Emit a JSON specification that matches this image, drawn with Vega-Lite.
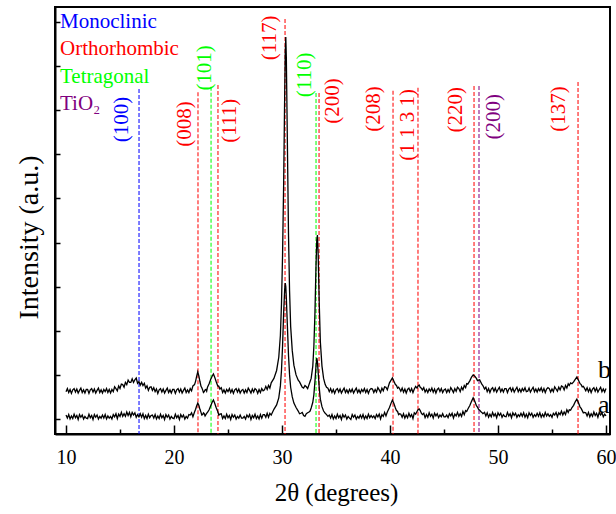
{
  "$schema": "https://vega.github.io/schema/vega-lite/v6.json",
  "width": 555,
  "height": 427,
  "autosize": {"type": "none"},
  "padding": {"left": 55, "top": 7, "right": 6, "bottom": 80},
  "background": "white",
  "config": {
    "view": {"stroke": "black", "strokeWidth": 2},
    "font": "Liberation Serif, Times New Roman, serif",
    "axis": {"grid": false, "labelFont": "Liberation Serif, Times New Roman, serif", "titleFont": "Liberation Serif, Times New Roman, serif", "labelColor": "black", "titleColor": "black", "tickColor": "black", "domainColor": "black"}
  },
  "datasets": {
    "traces": [
      {"x":10.000,"a":0.09,"b":0.62},{"x":10.125,"a":0.02,"b":0.69},{"x":10.250,"a":0.10,"b":0.60},{"x":10.375,"a":0.00,"b":0.67},
      {"x":10.500,"a":0.07,"b":0.58},{"x":10.625,"a":0.01,"b":0.66},{"x":10.750,"a":0.11,"b":0.69},{"x":10.875,"a":0.03,"b":0.61},
      {"x":11.000,"a":0.08,"b":0.68},{"x":11.125,"a":-0.01,"b":0.59},{"x":11.250,"a":0.10,"b":0.65},{"x":11.375,"a":0.04,"b":0.70},
      {"x":11.500,"a":0.09,"b":0.60},{"x":11.625,"a":0.00,"b":0.66},{"x":11.750,"a":0.06,"b":0.59},{"x":11.875,"a":0.02,"b":0.67},
      {"x":12.000,"a":0.01,"b":0.67},{"x":12.125,"a":0.11,"b":0.58},{"x":12.250,"a":0.03,"b":0.66},{"x":12.375,"a":0.08,"b":0.69},
      {"x":12.500,"a":-0.01,"b":0.61},{"x":12.625,"a":0.10,"b":0.68},{"x":12.750,"a":0.04,"b":0.59},{"x":12.875,"a":0.09,"b":0.65},
      {"x":13.000,"a":0.00,"b":0.70},{"x":13.125,"a":0.06,"b":0.60},{"x":13.250,"a":0.02,"b":0.66},{"x":13.375,"a":0.09,"b":0.59},
      {"x":13.500,"a":0.02,"b":0.67},{"x":13.625,"a":0.10,"b":0.62},{"x":13.750,"a":0.00,"b":0.69},{"x":13.875,"a":0.07,"b":0.60},
      {"x":14.000,"a":0.02,"b":0.67},{"x":14.125,"a":0.06,"b":0.59},{"x":14.250,"a":0.00,"b":0.67},{"x":14.375,"a":0.10,"b":0.62},
      {"x":14.500,"a":0.05,"b":0.73},{"x":14.625,"a":0.12,"b":0.69},{"x":14.750,"a":0.01,"b":0.64},{"x":14.875,"a":0.11,"b":0.75},
      {"x":15.000,"a":0.06,"b":0.69},{"x":15.125,"a":0.15,"b":0.79},{"x":15.250,"a":0.06,"b":0.78},{"x":15.375,"a":0.12,"b":0.72},
      {"x":15.500,"a":0.06,"b":0.83},{"x":15.625,"a":0.16,"b":0.78},{"x":15.750,"a":0.08,"b":0.88},{"x":15.875,"a":0.15,"b":0.83},
      {"x":16.000,"a":0.05,"b":0.83},{"x":16.125,"a":0.15,"b":0.91},{"x":16.250,"a":0.09,"b":0.83},{"x":16.375,"a":0.14,"b":0.89},
      {"x":16.500,"a":0.04,"b":0.93},{"x":16.625,"a":0.10,"b":0.81},{"x":16.750,"a":0.05,"b":0.85},{"x":16.875,"a":0.12,"b":0.77},
      {"x":17.000,"a":0.04,"b":0.83},{"x":17.125,"a":0.12,"b":0.76},{"x":17.250,"a":0.01,"b":0.81},{"x":17.375,"a":0.08,"b":0.70},
      {"x":17.500,"a":0.01,"b":0.75},{"x":17.625,"a":0.11,"b":0.65},{"x":17.750,"a":0.03,"b":0.72},{"x":17.875,"a":0.08,"b":0.73},
      {"x":18.000,"a":0.09,"b":0.65},{"x":18.125,"a":0.02,"b":0.71},{"x":18.250,"a":0.10,"b":0.62},{"x":18.375,"a":0.00,"b":0.68},
      {"x":18.500,"a":0.07,"b":0.58},{"x":18.625,"a":0.01,"b":0.66},{"x":18.750,"a":0.11,"b":0.69},{"x":18.875,"a":0.03,"b":0.61},
      {"x":19.000,"a":0.08,"b":0.68},{"x":19.125,"a":-0.01,"b":0.59},{"x":19.250,"a":0.10,"b":0.65},{"x":19.375,"a":0.04,"b":0.70},
      {"x":19.500,"a":0.09,"b":0.60},{"x":19.625,"a":0.00,"b":0.66},{"x":19.750,"a":0.06,"b":0.59},{"x":19.875,"a":0.02,"b":0.67},
      {"x":20.000,"a":0.01,"b":0.67},{"x":20.125,"a":0.11,"b":0.58},{"x":20.250,"a":0.03,"b":0.66},{"x":20.375,"a":0.08,"b":0.69},
      {"x":20.500,"a":-0.01,"b":0.61},{"x":20.625,"a":0.10,"b":0.68},{"x":20.750,"a":0.04,"b":0.59},{"x":20.875,"a":0.09,"b":0.65},
      {"x":21.000,"a":0.00,"b":0.70},{"x":21.125,"a":0.06,"b":0.60},{"x":21.250,"a":0.02,"b":0.66},{"x":21.375,"a":0.10,"b":0.60},
      {"x":21.500,"a":0.09,"b":0.69},{"x":21.625,"a":0.14,"b":0.64},{"x":21.750,"a":0.05,"b":0.75},
      {"x":21.90,"a":0.16,"b":0.78},{"x":22.00,"a":0.22,"b":0.86},{"x":22.10,"a":0.30,"b":0.97},{"x":22.20,"a":0.36,"b":1.07},
      {"x":22.30,"a":0.31,"b":0.98},{"x":22.40,"a":0.22,"b":0.85},{"x":22.50,"a":0.15,"b":0.74},{"x":22.575,"a":0.09,"b":0.71},
      {"x":22.65,"a":0.10,"b":0.66},{"x":22.725,"a":0.14,"b":0.60},{"x":22.80,"a":0.12,"b":0.62},{"x":22.875,"a":0.07,"b":0.66},
      {"x":22.95,"a":0.10,"b":0.67},{"x":23.025,"a":0.13,"b":0.63},{"x":23.10,"a":0.15,"b":0.72},{"x":23.25,"a":0.21,"b":0.80},
      {"x":23.40,"a":0.30,"b":0.90},{"x":23.55,"a":0.39,"b":0.98},{"x":23.65,"a":0.43,"b":1.02},{"x":23.75,"a":0.37,"b":0.96},
      {"x":23.90,"a":0.26,"b":0.85},{"x":24.05,"a":0.17,"b":0.75},{"x":24.15,"a":0.09,"b":0.74},{"x":24.25,"a":0.11,"b":0.68},
      {"x":24.375,"a":0.12,"b":0.71},{"x":24.500,"a":0.01,"b":0.60},{"x":24.625,"a":0.07,"b":0.66},{"x":24.750,"a":0.01,"b":0.59},
      {"x":24.875,"a":0.11,"b":0.67},{"x":25.000,"a":0.03,"b":0.62},{"x":25.125,"a":0.08,"b":0.69},{"x":25.250,"a":-0.01,"b":0.60},
      {"x":25.375,"a":0.10,"b":0.67},{"x":25.500,"a":0.04,"b":0.58},{"x":25.625,"a":0.09,"b":0.66},{"x":25.750,"a":0.00,"b":0.69},
      {"x":25.875,"a":0.06,"b":0.61},{"x":26.000,"a":0.02,"b":0.68},{"x":26.125,"a":0.09,"b":0.59},{"x":26.250,"a":0.02,"b":0.65},
      {"x":26.375,"a":0.02,"b":0.67},{"x":26.500,"a":0.06,"b":0.59},{"x":26.625,"a":0.00,"b":0.66},{"x":26.750,"a":0.09,"b":0.60},
      {"x":26.875,"a":0.04,"b":0.70},{"x":27.000,"a":0.10,"b":0.65},{"x":27.125,"a":-0.01,"b":0.59},{"x":27.250,"a":0.08,"b":0.68},
      {"x":27.375,"a":0.03,"b":0.61},{"x":27.500,"a":0.11,"b":0.69},{"x":27.625,"a":0.01,"b":0.66},{"x":27.750,"a":0.07,"b":0.58},
      {"x":27.875,"a":0.00,"b":0.67},{"x":28.000,"a":0.10,"b":0.60},{"x":28.125,"a":0.02,"b":0.69},{"x":28.250,"a":0.10,"b":0.64},
      {"x":28.375,"a":0.10,"b":0.66},{"x":28.500,"a":0.04,"b":0.74},{"x":28.625,"a":0.13,"b":0.67},{"x":28.750,"a":0.04,"b":0.76},
      {"x":28.875,"a":0.13,"b":0.70},{"x":29.000,"a":0.09,"b":0.82},
      {"x":29.25,"a":0.22,"b":0.92},{"x":29.50,"a":0.32,"b":1.10},{"x":29.70,"a":0.48,"b":1.40},{"x":29.85,"a":0.75,"b":1.90},
      {"x":29.95,"a":1.10,"b":2.60},{"x":30.05,"a":1.65,"b":3.70},{"x":30.15,"a":2.40,"b":5.30},{"x":30.25,"a":2.95,"b":7.40},
      {"x":30.30,"a":3.08,"b":8.30},{"x":30.35,"a":3.00,"b":8.66},{"x":30.40,"a":2.75,"b":8.20},{"x":30.50,"a":2.10,"b":6.20},
      {"x":30.60,"a":1.45,"b":4.20},{"x":30.70,"a":1.00,"b":2.90},{"x":30.80,"a":0.72,"b":2.10},{"x":30.95,"a":0.50,"b":1.55},
      {"x":31.10,"a":0.36,"b":1.22},{"x":31.30,"a":0.26,"b":1.00},{"x":31.50,"a":0.18,"b":0.88},{"x":31.625,"a":0.12,"b":0.84},
      {"x":31.75,"a":0.13,"b":0.78},{"x":31.875,"a":0.15,"b":0.72},{"x":32.00,"a":0.08,"b":0.70},{"x":32.125,"a":0.06,"b":0.76},
      {"x":32.25,"a":0.12,"b":0.73},{"x":32.375,"a":0.14,"b":0.69},{"x":32.50,"a":0.16,"b":0.78},{"x":32.60,"a":0.18,"b":0.85},
      {"x":32.70,"a":0.25,"b":0.92},{"x":32.85,"a":0.38,"b":1.20},{"x":32.95,"a":0.55,"b":1.65},{"x":33.05,"a":0.85,"b":2.40},
      {"x":33.15,"a":1.22,"b":3.50},{"x":33.22,"a":1.38,"b":4.05},{"x":33.28,"a":1.30,"b":4.17},{"x":33.35,"a":1.05,"b":3.70},
      {"x":33.45,"a":0.70,"b":2.60},{"x":33.55,"a":0.45,"b":1.75},{"x":33.70,"a":0.28,"b":1.20},{"x":33.85,"a":0.18,"b":0.92},
      {"x":34.00,"a":0.13,"b":0.78},{"x":34.125,"a":0.10,"b":0.72},{"x":34.250,"a":0.06,"b":0.70},
      {"x":34.375,"a":0.09,"b":0.62},{"x":34.500,"a":0.02,"b":0.69},{"x":34.625,"a":0.10,"b":0.60},{"x":34.750,"a":0.00,"b":0.67},
      {"x":34.875,"a":0.07,"b":0.58},{"x":35.000,"a":0.01,"b":0.66},{"x":35.125,"a":0.11,"b":0.69},{"x":35.250,"a":0.03,"b":0.61},
      {"x":35.375,"a":0.08,"b":0.68},{"x":35.500,"a":-0.01,"b":0.59},{"x":35.625,"a":0.10,"b":0.65},{"x":35.750,"a":0.04,"b":0.70},
      {"x":35.875,"a":0.09,"b":0.60},{"x":36.000,"a":0.00,"b":0.66},{"x":36.125,"a":0.06,"b":0.59},{"x":36.250,"a":0.02,"b":0.67},
      {"x":36.375,"a":-0.01,"b":0.61},{"x":36.500,"a":0.10,"b":0.68},{"x":36.625,"a":0.04,"b":0.59},{"x":36.750,"a":0.09,"b":0.65},
      {"x":36.875,"a":0.00,"b":0.70},{"x":37.000,"a":0.06,"b":0.60},{"x":37.125,"a":0.02,"b":0.66},{"x":37.250,"a":0.09,"b":0.59},
      {"x":37.375,"a":0.02,"b":0.67},{"x":37.500,"a":0.10,"b":0.62},{"x":37.625,"a":0.00,"b":0.69},{"x":37.750,"a":0.07,"b":0.60},
      {"x":37.875,"a":0.01,"b":0.67},{"x":38.000,"a":0.11,"b":0.58},{"x":38.125,"a":0.03,"b":0.66},{"x":38.250,"a":0.08,"b":0.69},
      {"x":38.375,"a":0.03,"b":0.68},{"x":38.500,"a":0.07,"b":0.60},{"x":38.625,"a":0.01,"b":0.67},{"x":38.750,"a":0.10,"b":0.61},
      {"x":38.875,"a":0.05,"b":0.71},{"x":39.000,"a":0.11,"b":0.66},{"x":39.125,"a":0.00,"b":0.60},{"x":39.250,"a":0.10,"b":0.70},
      {"x":39.375,"a":0.06,"b":0.64},{"x":39.500,"a":0.15,"b":0.73},{"x":39.625,"a":0.07,"b":0.72},{"x":39.750,"a":0.16,"b":0.66},
      {"x":39.95,"a":0.26,"b":0.82},{"x":40.10,"a":0.36,"b":0.88},{"x":40.22,"a":0.43,"b":0.93},{"x":40.35,"a":0.36,"b":0.86},
      {"x":40.50,"a":0.25,"b":0.78},{"x":40.60,"a":0.19,"b":0.76},{"x":40.70,"a":0.17,"b":0.70},{"x":40.80,"a":0.10,"b":0.72},
      {"x":40.90,"a":0.12,"b":0.68},
      {"x":41.000,"a":0.11,"b":0.63},{"x":41.125,"a":0.04,"b":0.70},{"x":41.250,"a":0.12,"b":0.61},{"x":41.375,"a":0.02,"b":0.68},
      {"x":41.500,"a":0.09,"b":0.59},{"x":41.625,"a":0.03,"b":0.67},{"x":41.750,"a":0.13,"b":0.70},{"x":41.875,"a":0.05,"b":0.62},
      {"x":42.000,"a":0.10,"b":0.69},{"x":42.125,"a":0.01,"b":0.60},{"x":42.250,"a":0.14,"b":0.68},{"x":42.375,"a":0.11,"b":0.74},
      {"x":42.50,"a":0.17,"b":0.70},{"x":42.60,"a":0.21,"b":0.75},{"x":42.70,"a":0.23,"b":0.77},{"x":42.80,"a":0.19,"b":0.72},
      {"x":42.90,"a":0.13,"b":0.70},{"x":43.00,"a":0.10,"b":0.66},
      {"x":43.125,"a":0.13,"b":0.71},{"x":43.250,"a":0.03,"b":0.61},{"x":43.375,"a":0.10,"b":0.67},{"x":43.500,"a":0.04,"b":0.60},
      {"x":43.625,"a":0.14,"b":0.68},{"x":43.750,"a":0.06,"b":0.63},{"x":43.875,"a":0.11,"b":0.70},{"x":44.000,"a":0.02,"b":0.61},
      {"x":44.125,"a":0.13,"b":0.68},{"x":44.250,"a":0.07,"b":0.59},{"x":44.375,"a":0.12,"b":0.67},{"x":44.500,"a":0.03,"b":0.70},
      {"x":44.625,"a":0.09,"b":0.62},{"x":44.750,"a":0.05,"b":0.69},{"x":44.875,"a":0.12,"b":0.60},{"x":45.000,"a":0.05,"b":0.66},
      {"x":45.125,"a":0.05,"b":0.68},{"x":45.250,"a":0.09,"b":0.60},{"x":45.375,"a":0.03,"b":0.67},{"x":45.500,"a":0.12,"b":0.61},
      {"x":45.625,"a":0.07,"b":0.71},{"x":45.750,"a":0.13,"b":0.66},{"x":45.875,"a":0.02,"b":0.60},{"x":46.000,"a":0.11,"b":0.69},
      {"x":46.125,"a":0.07,"b":0.63},{"x":46.250,"a":0.15,"b":0.72},{"x":46.375,"a":0.06,"b":0.69},{"x":46.500,"a":0.12,"b":0.62},
      {"x":46.625,"a":0.06,"b":0.72},{"x":46.750,"a":0.17,"b":0.66},{"x":46.875,"a":0.10,"b":0.76},{"x":47.000,"a":0.19,"b":0.71},
      {"x":47.10,"a":0.17,"b":0.80},{"x":47.20,"a":0.22,"b":0.79},{"x":47.40,"a":0.31,"b":0.87},{"x":47.55,"a":0.40,"b":0.95},
      {"x":47.70,"a":0.48,"b":1.00},{"x":47.85,"a":0.40,"b":0.97},{"x":48.00,"a":0.30,"b":0.92},{"x":48.10,"a":0.27,"b":0.87},
      {"x":48.20,"a":0.22,"b":0.88},{"x":48.30,"a":0.20,"b":0.89},{"x":48.40,"a":0.17,"b":0.84},{"x":48.50,"a":0.15,"b":0.79},
      {"x":48.60,"a":0.12,"b":0.76},
      {"x":48.750,"a":0.15,"b":0.68},{"x":48.875,"a":0.07,"b":0.72},{"x":49.000,"a":0.14,"b":0.62},{"x":49.125,"a":0.04,"b":0.69},
      {"x":49.250,"a":0.11,"b":0.60},{"x":49.375,"a":0.05,"b":0.68},{"x":49.500,"a":0.15,"b":0.71},{"x":49.625,"a":0.07,"b":0.63},
      {"x":49.750,"a":0.12,"b":0.70},{"x":49.875,"a":0.03,"b":0.61},{"x":50.000,"a":0.14,"b":0.67},{"x":50.125,"a":0.08,"b":0.72},
      {"x":50.250,"a":0.13,"b":0.62},{"x":50.375,"a":0.04,"b":0.68},{"x":50.500,"a":0.10,"b":0.61},{"x":50.625,"a":0.06,"b":0.69},
      {"x":50.750,"a":0.05,"b":0.69},{"x":50.875,"a":0.15,"b":0.60},{"x":51.000,"a":0.07,"b":0.68},{"x":51.125,"a":0.12,"b":0.71},
      {"x":51.250,"a":0.03,"b":0.63},{"x":51.375,"a":0.14,"b":0.70},{"x":51.500,"a":0.08,"b":0.61},{"x":51.625,"a":0.13,"b":0.67},
      {"x":51.750,"a":0.04,"b":0.72},{"x":51.875,"a":0.10,"b":0.62},{"x":52.000,"a":0.06,"b":0.68},{"x":52.125,"a":0.13,"b":0.61},
      {"x":52.250,"a":0.06,"b":0.69},{"x":52.375,"a":0.14,"b":0.64},{"x":52.500,"a":0.04,"b":0.71},{"x":52.625,"a":0.11,"b":0.62},
      {"x":52.750,"a":0.03,"b":0.63},{"x":52.875,"a":0.14,"b":0.70},{"x":53.000,"a":0.08,"b":0.61},{"x":53.125,"a":0.13,"b":0.67},
      {"x":53.250,"a":0.04,"b":0.72},{"x":53.375,"a":0.10,"b":0.62},{"x":53.500,"a":0.06,"b":0.68},{"x":53.625,"a":0.13,"b":0.61},
      {"x":53.750,"a":0.06,"b":0.69},{"x":53.875,"a":0.14,"b":0.64},{"x":54.000,"a":0.04,"b":0.71},{"x":54.125,"a":0.11,"b":0.62},
      {"x":54.250,"a":0.05,"b":0.69},{"x":54.375,"a":0.15,"b":0.60},{"x":54.500,"a":0.07,"b":0.68},{"x":54.625,"a":0.12,"b":0.71},
      {"x":54.750,"a":0.06,"b":0.69},{"x":54.875,"a":0.10,"b":0.61},{"x":55.000,"a":0.04,"b":0.68},{"x":55.125,"a":0.13,"b":0.62},
      {"x":55.250,"a":0.09,"b":0.73},{"x":55.375,"a":0.15,"b":0.68},{"x":55.500,"a":0.05,"b":0.63},{"x":55.625,"a":0.14,"b":0.72},
      {"x":55.750,"a":0.10,"b":0.66},{"x":55.875,"a":0.18,"b":0.75},{"x":56.000,"a":0.09,"b":0.73},{"x":56.125,"a":0.16,"b":0.66},
      {"x":56.250,"a":0.10,"b":0.76},{"x":56.375,"a":0.21,"b":0.70},{"x":56.500,"a":0.15,"b":0.80},
      {"x":56.60,"a":0.21,"b":0.76},{"x":56.72,"a":0.20,"b":0.82},{"x":56.85,"a":0.26,"b":0.80},{"x":57.00,"a":0.31,"b":0.84},
      {"x":57.15,"a":0.39,"b":0.90},{"x":57.30,"a":0.45,"b":0.95},{"x":57.45,"a":0.37,"b":0.88},{"x":57.60,"a":0.27,"b":0.80},
      {"x":57.70,"a":0.24,"b":0.78},{"x":57.80,"a":0.19,"b":0.73},{"x":57.90,"a":0.14,"b":0.74},{"x":58.00,"a":0.15,"b":0.70},
      {"x":58.125,"a":0.14,"b":0.64},{"x":58.250,"a":0.07,"b":0.71},{"x":58.375,"a":0.15,"b":0.62},{"x":58.500,"a":0.05,"b":0.69},
      {"x":58.625,"a":0.12,"b":0.60},{"x":58.750,"a":0.06,"b":0.68},{"x":58.875,"a":0.16,"b":0.71},{"x":59.000,"a":0.08,"b":0.63},
      {"x":59.125,"a":0.13,"b":0.70},{"x":59.250,"a":0.04,"b":0.61},{"x":59.375,"a":0.15,"b":0.67},{"x":59.500,"a":0.09,"b":0.72},
      {"x":59.625,"a":0.14,"b":0.62},{"x":59.750,"a":0.05,"b":0.68},{"x":59.875,"a":0.11,"b":0.61},{"x":60.000,"a":0.07,"b":0.69}
    ],
    "peaks": [
      {"hkl":"(100)","phase":"Monoclinic","pos":16.76,"top":7.48,"lx":15.19,"ly":6.79},
      {"hkl":"(008)","phase":"Orthorhombic","pos":22.22,"top":7.41,"lx":21.02,"ly":6.69},
      {"hkl":"(101)","phase":"Tetragonal","pos":23.43,"top":7.53,"lx":22.87,"ly":7.96},
      {"hkl":"(111)","phase":"Orthorhombic","pos":24.07,"top":7.57,"lx":25.19,"ly":6.76},
      {"hkl":"(117)","phase":"Orthorhombic","pos":30.28,"top":9.07,"lx":28.89,"ly":8.64},
      {"hkl":"(110)","phase":"Tetragonal","pos":33.15,"top":7.39,"lx":32.13,"ly":7.80},
      {"hkl":"(200)","phase":"Orthorhombic","pos":33.43,"top":7.39,"lx":34.72,"ly":7.21},
      {"hkl":"(208)","phase":"Orthorhombic","pos":40.28,"top":7.44,"lx":38.52,"ly":7.03},
      {"hkl":"(1 1 3 1)","phase":"Orthorhombic","pos":42.59,"top":7.51,"lx":41.67,"ly":6.67},
      {"hkl":"(220)","phase":"Orthorhombic","pos":47.78,"top":7.55,"lx":46.11,"ly":7.01},
      {"hkl":"(200)","phase":"TiO2","pos":48.24,"top":7.55,"lx":49.63,"ly":6.85},
      {"hkl":"(137)","phase":"Orthorhombic","pos":57.41,"top":7.64,"lx":55.65,"ly":7.03}
    ],
    "legend": [
      {"label":"Monoclinic","phase":"Monoclinic","lx":9.44,"ly":8.87},
      {"label":"Orthorhombic","phase":"Orthorhombic","lx":9.44,"ly":8.25},
      {"label":"Tetragonal","phase":"Tetragonal","lx":9.44,"ly":7.62},
      {"label":"TiO₂","phase":"TiO2","lx":9.44,"ly":7.01}
    ],
    "series": [
      {"label":"b","lx":59.26,"ly":0.93},
      {"label":"a","lx":59.26,"ly":0.14}
    ]
  },
  "resolve": {"axis": {"x": "independent", "y": "independent"}},
  "layer": [
    {
      "data": {"name": "peaks"},
      "mark": {"type": "rule", "strokeDash": [4, 2], "strokeWidth": 1.2, "opacity": 0.85},
      "encoding": {
        "x": {"field": "pos", "type": "quantitative", "scale": {"domain": [8.98, 60.37], "nice": false, "zero": false},
              "axis": {"orient": "bottom", "values": [15, 25, 35, 45, 55], "tickSize": -5, "tickWidth": 1.5, "labels": false, "domain": false, "title": null, "grid": false}},
        "y": {"field": "top", "type": "quantitative", "scale": {"domain": [-0.34, 9.34], "nice": false, "zero": false}, "axis": null},
        "y2": {"datum": -0.34},
        "color": {"field": "phase", "type": "nominal", "scale": {"domain": ["Monoclinic", "Orthorhombic", "Tetragonal", "TiO2"], "range": ["#0000ff", "#ff0000", "#00ff00", "#800080"]}, "legend": null}
      }
    },
    {
      "data": {"name": "traces"},
      "mark": {"type": "line", "color": "black", "strokeWidth": 1.3},
      "encoding": {
        "x": {"field": "x", "type": "quantitative",
              "axis": {"orient": "bottom", "values": [10, 20, 30, 40, 50, 60], "tickSize": -9, "tickWidth": 1.5, "labelFontSize": 20, "labelFont": "Liberation Serif, Times New Roman, serif", "labelPadding": 22, "labelFlush": false, "labelOverlap": false, "domain": true, "domainWidth": 2,
                       "title": "2θ (degrees)", "titleFont": "Liberation Serif, Times New Roman, serif", "titleFontSize": 25, "titleFontWeight": "normal", "titleX": 281, "titleY": 66, "titleBaseline": "alphabetic", "titleAlign": "center"}},
        "y": {"field": "a", "type": "quantitative",
              "axis": {"orient": "left", "values": [0, 1, 2, 3, 4, 5, 6, 7, 8, 9], "tickSize": -5, "tickWidth": 1.5, "labels": false, "domain": true, "domainWidth": 2,
                       "title": "Intensity (a.u.)", "titleFont": "Liberation Serif, Times New Roman, serif", "titleFontSize": 28, "titleFontWeight": "normal", "titleAngle": 270, "titleX": -18, "titleY": 230, "titleBaseline": "alphabetic", "titleAlign": "center"}}
      }
    },
    {
      "data": {"name": "traces"},
      "mark": {"type": "line", "color": "black", "strokeWidth": 1.3},
      "encoding": {
        "x": {"field": "x", "type": "quantitative", "axis": null},
        "y": {"field": "b", "type": "quantitative", "axis": null}
      }
    },
    {
      "data": {"name": "peaks"},
      "mark": {"type": "text", "angle": 270, "fontSize": 21, "font": "Liberation Serif, Times New Roman, serif", "align": "center", "baseline": "middle"},
      "encoding": {
        "x": {"field": "lx", "type": "quantitative", "axis": null},
        "y": {"field": "ly", "type": "quantitative", "axis": null},
        "text": {"field": "hkl"},
        "color": {"field": "phase", "type": "nominal", "legend": null}
      }
    },
    {
      "data": {"name": "legend"},
      "mark": {"type": "text", "fontSize": 21, "font": "Liberation Serif, Times New Roman, serif", "align": "left", "baseline": "alphabetic"},
      "encoding": {
        "x": {"field": "lx", "type": "quantitative", "axis": null},
        "y": {"field": "ly", "type": "quantitative", "axis": null},
        "text": {"field": "label"},
        "color": {"field": "phase", "type": "nominal", "legend": null}
      }
    },
    {
      "data": {"name": "series"},
      "mark": {"type": "text", "fontSize": 26, "font": "Liberation Serif, Times New Roman, serif", "align": "left", "baseline": "alphabetic", "color": "black"},
      "encoding": {
        "x": {"field": "lx", "type": "quantitative", "axis": null},
        "y": {"field": "ly", "type": "quantitative", "axis": null},
        "text": {"field": "label"}
      }
    }
  ]
}
